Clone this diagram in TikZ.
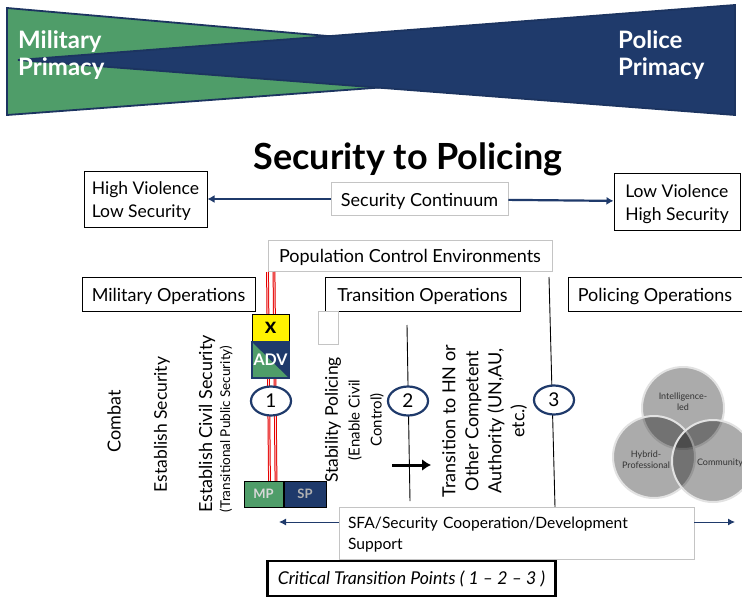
\documentclass[tikz,border=0pt]{standalone}
\usepackage{fontspec}
\setmainfont{Lato}
\usepackage{tikz}
\usetikzlibrary{positioning,calc,shapes,shapes.geometric,arrows.meta}
\definecolor{armygreen}{HTML}{4F9D69}
\definecolor{policenavy}{HTML}{1F3A6B}
\definecolor{boxgray}{HTML}{C4C4C4}
\definecolor{venngray}{HTML}{E2E2E2}
\newcommand{\txt}[2]{\fontsize{#1}{#2}\selectfont}
\newcommand{\mybox}[6][]{
	\node [#1, minimum width=#4, minimum height=#5, inner sep=0pt, align=left] (#2) at #3 {\rule{0pt}{1em}#6};
}
\newcommand{\sideways}[4]{
	\node [rotate=90, align=center, font=#3] (#1) at #2 {#4};
}
\newcommand{\phase}[2]{
	\node [phasering] (#1) at #2 {#1};
}
\newcommand{\venncircle}[1]{
	\path [fill=black, fill opacity=0.33, draw=venngray, line width=2pt] #1 circle (41);
}
\newcommand{\vennlabel}[3]{
	\node [align=center, text=black!80, font=\txt{9}{11}] (#1) at #2 {#3};
}
\tikzset{
	blackbox/.style={draw=black, line width=1pt, fill=white},
	graybox/.style={draw=boxgray, line width=0.8pt, fill=white},
	phasering/.style={draw=policenavy, line width=2.2pt, fill=white, ellipse, minimum width=40, minimum height=29, inner sep=0pt, font=\txt{19}{23}},
	blueline/.style={draw=policenavy, line width=2.2pt, -{Latex[length=7pt,width=8pt]}},
	thinline/.style={draw=policenavy, line width=1pt, -{Latex[length=7pt,width=7pt]}},
	phaseline/.style={draw=black, line width=0.9pt},
	redline/.style={draw=red!90!black, line width=2.8pt},
	redcore/.style={draw=red!12, line width=0.8pt},
	wedgeline/.style={draw=policenavy!90!black, line width=1.8pt, line join=miter},
	primacy/.style={text=white, align=left, anchor=west, inner sep=0pt, font=\txt{24}{27}\bfseries}
}

\begin{document}
\begin{tikzpicture}[x=1pt,y=-1pt]
	\useasboundingbox (0,0) rectangle (742,597);
	\fill [white] (0,0) rectangle (742,597);

	% primacy wedges
	\draw [wedgeline, fill=armygreen] (7,8) -- (671,66) -- (7,115) -- cycle;
	\draw [wedgeline, fill=policenavy] (18,60) -- (735,5) -- (735,115) -- cycle;
	\node [primacy] (military) at (18,55.5) {Military\\Primacy};
	\node [primacy] (police) at (618,55.5) {Police\\Primacy};

	\node [font=\txt{36}{42}\bfseries] (title) at (408,159) {Security to Policing};

	\mybox[blackbox, font=\txt{17.5}{23}]{highviolence}{(145.5,199)}{123}{56}{High Violence\\Low Security}
	\mybox[blackbox, font=\txt{17.5}{23}]{lowviolence}{(677,201.5)}{126}{57}{Low Violence\\High Security}
	\mybox[graybox, font=\txt{18}{23}]{continuum}{(419.5,199)}{177}{33}{Security Continuum}
	\draw [blueline] (continuum) -- (highviolence);
	\draw [blueline] (continuum) -- (lowviolence);

	\mybox[graybox, font=\txt{18}{23}]{population}{(410,255.5)}{284}{31}{Population Control Environments}

	% red lines go under the symbols
	\coordinate (redatop) at (267.5,272);
	\coordinate (redabot) at (269.5,482);
	\coordinate (redbtop) at (274,272);
	\coordinate (redbbot) at (276,482);
	\draw [redline] (redatop) -- (redabot);
	\draw [redline] (redbtop) -- (redbbot);
	\draw [redcore] (redatop) -- (redabot);
	\draw [redcore] (redbtop) -- (redbbot);

	\mybox[blackbox, font=\txt{18}{23}]{militaryops}{(168.5,294)}{173}{34}{Military Operations}
	\mybox[blackbox, font=\txt{18}{23}]{transitionops}{(422.5,294)}{195}{34}{Transition Operations}
	\mybox[blackbox, font=\txt{18}{23}]{policingops}{(655,294)}{174}{34}{Policing Operations}

	\mybox[graybox]{blank}{(328,327.5)}{20}{33}{}

	\node [draw=black, line width=1pt, fill=yellow, minimum width=37, minimum height=28, inner sep=0pt, font=\txt{22}{24}\bfseries] (xbox) at (270.5,328) {x};
	\fill [armygreen] (252,342) rectangle (289,378);
	\fill [policenavy] (252,342) -- (289,342) -- (289,378) -- cycle;
	\node [draw=policenavy, line width=1.2pt, minimum width=37, minimum height=36, inner sep=0pt, text=white, font=\txt{16}{18}\bfseries] (adv) at (270.5,360) {ADV};

	\node [draw=black, line width=1pt, fill=armygreen, minimum width=39, minimum height=26, inner sep=0pt, text=black!15, font=\txt{13}{15}\bfseries] (mp) at (263.5,494) {MP};
	\node [draw=black, line width=1pt, fill=policenavy, minimum width=42, minimum height=26, inner sep=0pt, text=black!30, font=\txt{13}{15}\bfseries, right=0pt of mp] (sp) {SP};

	\coordinate (twotop) at (407,325);
	\coordinate (twobot) at (410,501);
	\coordinate (threetop) at (549,277);
	\coordinate (threebot) at (555,507);
	\draw [phaseline] (twotop) -- (twobot);
	\draw [phaseline] (threetop) -- (threebot);
	\phase{1}{(271,401)}
	\phase{2}{(408,401)}
	\phase{3}{(554,400)}

	\coordinate (pushstart) at (392,465);
	\coordinate (pushend) at (431,465);
	\draw [draw=black, line width=3pt, -{Latex[length=9pt,width=12pt]}] (pushstart) -- (pushend);

	\sideways{combat}{(114,421)}{\txt{18}{23}}{Combat}
	\sideways{establish}{(162,424.5)}{\txt{17.5}{22}}{Establish Security}
	\sideways{civil}{(207,424)}{\txt{18}{23}}{Establish Civil Security}
	\sideways{transitional}{(226,429)}{\txt{13.5}{16}}{(Transitional Public Security)}
	\sideways{stability}{(333,420)}{\txt{17.5}{22}}{Stability Policing}
	\sideways{enable}{(366,420)}{\txt{15}{22}}{(Enable Civil\\Control)}
	\sideways{handover}{(484.5,421)}{\txt{18}{23}}{Transition to HN or\\Other Competent\\Authority (UN,AU,\\etc.)}

	\venncircle{(683,408)}
	\venncircle{(654,457)}
	\venncircle{(713,461)}
	\vennlabel{intel}{(683,402)}{Intelligence-\\led}
	\vennlabel{hybrid}{(646,460)}{Hybrid-\\Professional}
	\vennlabel{community}{(720,463)}{Community}

	\mybox[graybox, font=\txt{15.6}{21}, text width=337]{support}{(516.5,533)}{355}{52}{SFA/Security Cooperation/Development\\Support}
	\coordinate (supportleft) at (279,522);
	\coordinate (supportright) at (735,522);
	\draw [thinline] (support.west |- supportleft) -- (supportleft);
	\draw [thinline] (support.east |- supportright) -- (supportright);

	\node [draw=black, line width=2.2pt, fill=white, minimum width=288, minimum height=35, inner sep=0pt, font=\txt{17.7}{21}\itshape] (critical) at (411.5,578.5) {Critical Transition Points ( 1 -- 2 -- 3 )};
\end{tikzpicture}
\end{document}
